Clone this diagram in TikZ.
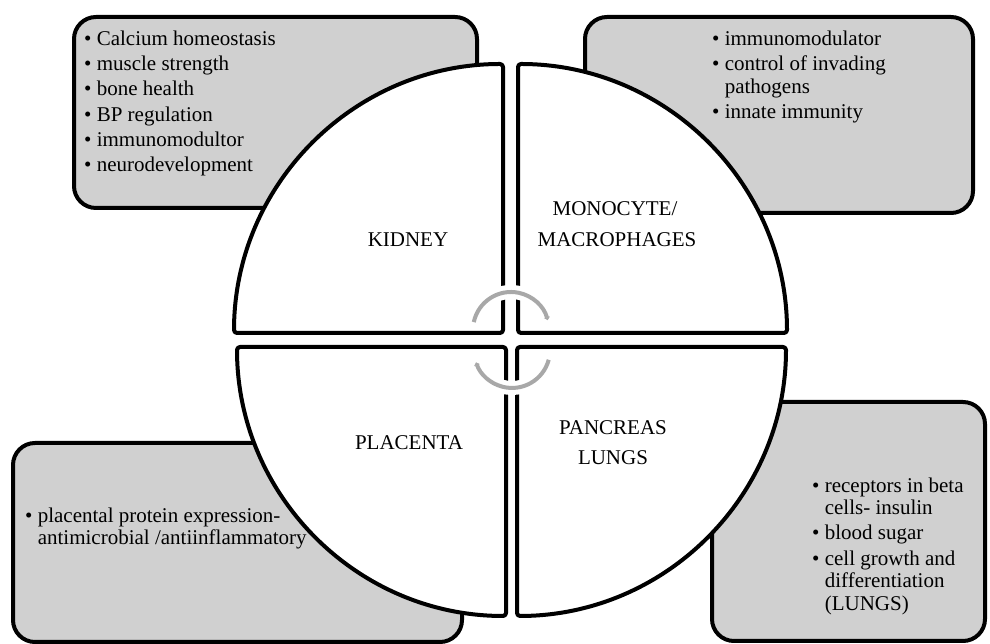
\documentclass[tikz,border=0pt]{standalone}
\usepackage{fontspec}
\setmainfont{Liberation Serif}
\usetikzlibrary{arrows.meta}
\definecolor{boxgray}{RGB}{208,208,208}
\definecolor{arcgray}{RGB}{168,168,168}
\newcommand{\itm}{\makebox[0.6em][l]{\textbullet}}
\newcommand{\cnt}{\hspace*{0.6em}}
\tikzset{
  infobox/.style={draw=black, line width=4pt, fill=boxgray, rounded corners=22pt},
  quarter/.style={draw=black, line width=4pt, fill=white, rounded corners=3pt, line join=round},
  listtext/.style={anchor=north west, inner sep=0pt, align=left, font=\fontsize{21pt}{22.5pt}\selectfont},
  organ/.style={anchor=base, inner sep=0pt, font=\fontsize{21pt}{25pt}\selectfont},
  halo/.style={draw=white, line width=14pt},
  cyc/.style={draw=arcgray, line width=4pt, -{Triangle[width=6pt,length=3pt]}}
}
\begin{document}
\begin{tikzpicture}[x=1pt,y=1pt]
\useasboundingbox (0,0) rectangle (990,644);
% gray boxes
\draw[infobox] (74,436) rectangle (477,627);
\draw[infobox] (585,431) rectangle (973,627);
\draw[infobox] (13,2) rectangle (462,201);
\draw[infobox] (712,3) rectangle (985,242);
% quarters
\draw[quarter] (503,311) -- (234,311) arc[start angle=180,end angle=90,radius=269] -- cycle;
\draw[quarter] (518,311) -- (518,580) arc[start angle=90,end angle=0,radius=269] -- cycle;
\draw[quarter] (506,297) -- (237,297) arc[start angle=180,end angle=270,radius=269] -- cycle;
\draw[quarter] (517,297) -- (517,28) arc[start angle=270,end angle=360,radius=269] -- cycle;
% cycle arrows
\draw[halo] (473.8,321.9) arc[start angle=168,end angle=15,radius=38];
\draw[halo] (548.7,284.2) arc[start angle=345,end angle=199,radius=38];
\draw[cyc] (473.8,321.9) arc[start angle=168,end angle=15,radius=38];
\draw[cyc] (548.7,284.2) arc[start angle=345,end angle=199,radius=38];
% list texts
\node[listtext] (tl) at (84,613.3) {\itm Calcium homeostasis\\[2.7pt]\itm muscle strength\\[2.7pt]\itm bone health\\[2.7pt]\itm BP regulation\\[2.7pt]\itm immunomodultor\\[2.7pt]\itm neurodevelopment};
\node[listtext] (tr) at (712,613.3) {\itm immunomodulator\\[2.7pt]\itm control of invading\\\cnt pathogens\\[2.7pt]\itm innate immunity};
\node[listtext] (bl) at (25,136.6) {\itm placental protein expression-\\\cnt antimicrobial /antiinflammatory};
\node[listtext] (br) at (812,166.6) {\itm receptors in beta\\\cnt cells- insulin\\[2.7pt]\itm blood sugar\\[2.7pt]\itm cell growth and\\\cnt differentiation\\\cnt (LUNGS)};
% organ labels
\node[organ] (kidney) at (408,397) {KIDNEY};
\node[organ] (mono1) at (615,428) {MONOCYTE/};
\node[organ] (mono2) at (617,397) {MACROPHAGES};
\node[organ] (placenta) at (409,194) {PLACENTA};
\node[organ] (panc1) at (613,209) {PANCREAS};
\node[organ] (panc2) at (613,179) {LUNGS};
\end{tikzpicture}
\end{document}
